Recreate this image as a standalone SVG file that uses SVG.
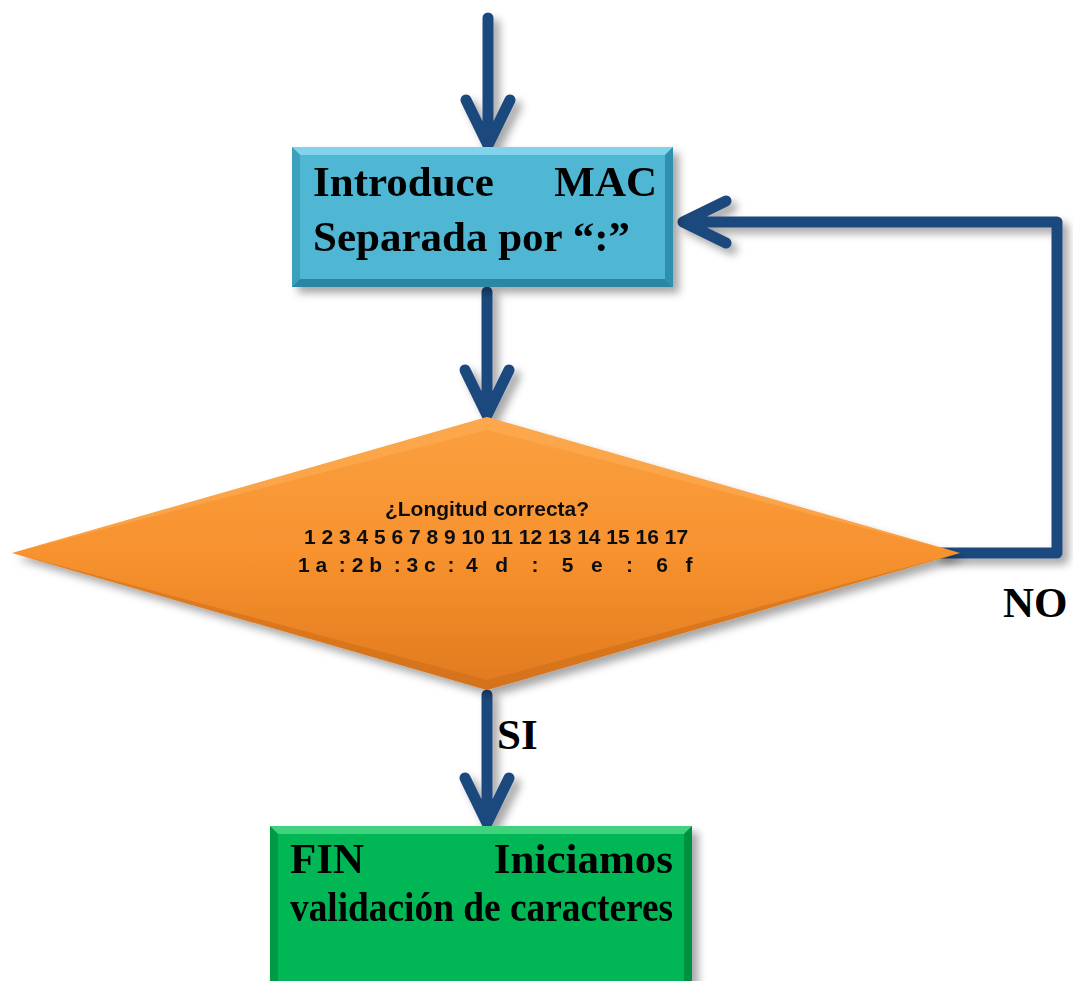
<svg xmlns="http://www.w3.org/2000/svg" width="1073" height="981" viewBox="0 0 1073 981">
<style>
.big{font-family:"Liberation Serif","Times New Roman",serif;font-weight:bold;font-size:43px;fill:#000}
.small{font-family:"Liberation Sans",Arial,sans-serif;font-weight:bold;font-size:21px;fill:#111}
.arr{fill:none;stroke:#1F497D;stroke-width:11;stroke-linecap:round;stroke-linejoin:round}
</style>
<defs>
<filter id="sh" x="-20%" y="-20%" width="140%" height="140%">
<feDropShadow dx="6" dy="6" stdDeviation="4" flood-color="#000" flood-opacity="0.35"/>
</filter>
<linearGradient id="og" x1="0" y1="0" x2="0" y2="1">
<stop offset="0" stop-color="#FBA040"/>
<stop offset="0.5" stop-color="#F7922F"/>
<stop offset="1" stop-color="#E07A1E"/>
</linearGradient>
</defs>
<g id="connectors" filter="url(#sh)">
<path class="arr" d="M488 18 V145 M466 100 L488 145 L510 100"/>
<path class="arr" d="M487 292 V415 M465 370 L487 415 L509 370"/>
<path class="arr" d="M487 695 V823 M465 778 L487 823 L509 778"/>
<path class="arr" d="M940 553 H1057 V222 H683 M726 201 L683 222 L726 243"/>
</g>
<g id="node-introduce" filter="url(#sh)">
<rect x="292" y="147" width="381" height="140" fill="#4FB6D3"/>
<path d="M292 147 H673 L665 155 H300 Z" fill="#7FD3EA"/>
<path d="M292 147 L300 155 V279 L292 287 Z" fill="#3A9FBD"/>
<path d="M673 147 V287 L665 279 V155 Z" fill="#2F90AE"/>
<path d="M292 287 L300 279 H665 L673 287 Z" fill="#2A86A3"/>
<text class="big" x="313" y="196">Introduce</text>
<text class="big" x="657" y="196" text-anchor="end">MAC</text>
<text class="big" x="313" y="251">Separada por “:”</text>
</g>
<g id="node-decision" filter="url(#sh)">
<polygon points="12,553 487,417 960,553 487,690" fill="url(#og)"/>
<polygon points="12,553 487,417 960,553 487,430" fill="#FDB05A" opacity="0.5"/>
<polygon points="12,553 487,690 960,553 487,680" fill="#C96A18" opacity="0.5"/>
<text class="small" x="487" y="516" text-anchor="middle">¿Longitud correcta?</text>
<text class="small" x="496" y="544" text-anchor="middle">1 2 3 4 5 6 7 8 9 10 11 12 13 14 15 16 17</text>
<text class="small" x="298" y="572" xml:space="preserve">1 a  : 2 b  : 3 c  :  4   d    :    5   e    :    6   f</text>
</g>
<g id="node-fin" filter="url(#sh)">
<rect x="270" y="826" width="422" height="170" fill="#06B654"/>
<path d="M270 826 H692 L684 834 H278 Z" fill="#3FD27C"/>
<path d="M270 826 L278 834 V990 L270 996 Z" fill="#049A46"/>
<path d="M692 826 V996 L684 990 V834 Z" fill="#03913F"/>
<text class="big" x="290" y="873">FIN</text>
<text class="big" x="673" y="873" text-anchor="end">Iniciamos</text>
<text class="big" x="290" y="921" textLength="383" lengthAdjust="spacingAndGlyphs">validación de caracteres</text>
</g>
<g id="labels">
<text class="big" x="1003" y="617">NO</text>
<text class="big" x="497" y="749">SI</text>
</g>
</svg>
